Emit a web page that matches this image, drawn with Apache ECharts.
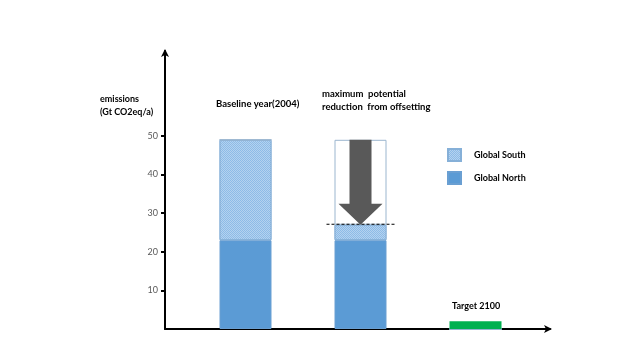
<!DOCTYPE html>
<html>
<head>
<meta charset="utf-8">
<script src="https://cdn.jsdelivr.net/npm/echarts@6/dist/echarts.min.js"></script>
<style>
html,body{margin:0;padding:0;background:#fff;}
#chart{width:640px;height:360px;}
</style>
</head>
<body>
<div id="chart"></div>
<script>
// ---- data ----
var categories = ['Baseline year(2004)', 'maximum  potential\nreduction  from offsetting', 'Target 2100'];
var globalNorth = [23, 23, 0];
var globalSouth = [26, 4, 0];
var offsetPotential = [0, 22, 0];
var target2100 = [0, 0, 2];
var yTicks = [10, 20, 30, 40, 50];
var yAxisTitle = 'emissions\n(Gt CO2eq/a)';
var legendNames = ['Global South', 'Global North'];
// arrow: [category index, from, to]
var reductionArrow = [[1, 49, 27]];

var FONT = 'Lato, "Liberation Sans", Arial, sans-serif';

var chart = echarts.init(document.getElementById('chart'), null, {renderer: 'canvas'});

var southDecal = {
  symbol: 'rect',
  symbolSize: 1,
  color: 'rgba(255,255,255,0.35)',
  dashArrayX: [[1, 1], [0, 1, 1, 0]],
  dashArrayY: [1, 0],
  rotation: 0
};

var option = {
  animation: false,
  backgroundColor: '#ffffff',
  grid: [
    {left: 188, right: 107, top: 51, bottom: 31},
    {left: 165, right: 90, top: 51, bottom: 31}
  ],
  xAxis: [
    {
      gridIndex: 0,
      type: 'category',
      data: categories,
      boundaryGap: true,
      show: false
    },
    {
      gridIndex: 1,
      type: 'value',
      min: 0,
      max: 1,
      axisLine: {show: true, lineStyle: {color: '#000', width: 2}, symbol: ['none', 'arrow'], symbolSize: [6, 8], symbolOffset: [0, 2]},
      axisTick: {show: false},
      axisLabel: {show: false},
      splitLine: {show: false}
    }
  ],
  yAxis: [
    {
      gridIndex: 0,
      type: 'value',
      min: 0,
      max: 72,
      show: false
    },
    {
      gridIndex: 1,
      type: 'value',
      min: 0,
      max: 72,
      interval: 10,
      axisLine: {show: true, lineStyle: {color: '#000', width: 2}, symbol: ['none', 'arrow'], symbolSize: [6, 8], symbolOffset: [0, 2]},
      axisTick: {show: true, length: 4, lineStyle: {color: '#000', width: 2}, customValues: yTicks},
      axisLabel: {show: true, margin: 7, color: '#595959', fontSize: 9, fontFamily: FONT, customValues: yTicks},
      splitLine: {show: false}
    }
  ],
  legend: {
    data: legendNames,
    orient: 'vertical',
    left: 442,
    top: 143,
    itemWidth: 13,
    itemHeight: 12,
    itemGap: 9,
    icon: 'rect',
    textStyle: {fontSize: 9, fontWeight: 'bold', fontFamily: FONT, color: '#000', padding: [0, 0, 0, 8]}
  },
  series: [
    {
      name: 'Global North',
      type: 'bar',
      stack: 'total',
      barWidth: 52,
      data: globalNorth,
      itemStyle: {color: '#5b9bd5', borderColor: '#6a9fd2', borderWidth: 1}
    },
    {
      name: 'Global South',
      type: 'bar',
      stack: 'total',
      barWidth: 52,
      data: globalSouth,
      itemStyle: {color: '#8dbbe7', borderColor: '#86b0d8', borderWidth: 1, decal: southDecal}
    },
    {
      name: 'Offset potential',
      type: 'bar',
      stack: 'total',
      barWidth: 52,
      data: offsetPotential,
      itemStyle: {color: '#ffffff', borderColor: '#9bb6cf', borderWidth: 1}
    },
    {
      name: 'Target',
      type: 'bar',
      stack: 'total',
      barWidth: 50,
      data: target2100,
      itemStyle: {color: '#00b050'}
    },
    {
      name: 'Reduction',
      type: 'custom',
      z: 5,
      data: reductionArrow,
      renderItem: function (params, api) {
        var x = api.value(0);
        var top = api.coord([x, api.value(1)]);
        var bot = api.coord([x, api.value(2)]);
        var cx = top[0];
        var shaftHalf = 11, headHalf = 22, headH = 21;
        var headTop = bot[1] - headH;
        var pts = [
          [cx - shaftHalf, top[1]], [cx + shaftHalf, top[1]],
          [cx + shaftHalf, headTop], [cx + headHalf, headTop],
          [cx, bot[1]],
          [cx - headHalf, headTop], [cx - shaftHalf, headTop]
        ];
        return {
          type: 'group',
          children: [
            {type: 'polygon', shape: {points: pts}, style: {fill: '#595959'}},
            {type: 'line', shape: {x1: cx - 34, y1: bot[1] - 0.5, x2: cx + 34, y2: bot[1] - 0.5},
              style: {stroke: '#000', lineWidth: 1, lineDash: [3, 2]}}
          ]
        };
      }
    }
  ],
  graphic: [
    {type: 'text', left: 100, top: 93, style: {text: yAxisTitle, font: 'bold 9px ' + FONT, fill: '#000', lineHeight: 13}},
    {type: 'text', left: 216, top: 99, style: {text: categories[0], font: 'bold 9.5px ' + FONT, fill: '#000'}},
    {type: 'text', left: 322, top: 87, style: {text: categories[1], font: 'bold 9.5px ' + FONT, fill: '#000', lineHeight: 13}},
    {type: 'text', left: 452, top: 302, style: {text: categories[2], font: 'bold 9px ' + FONT, fill: '#000'}}
  ]
};
chart.setOption(option);
</script>
</body>
</html>
